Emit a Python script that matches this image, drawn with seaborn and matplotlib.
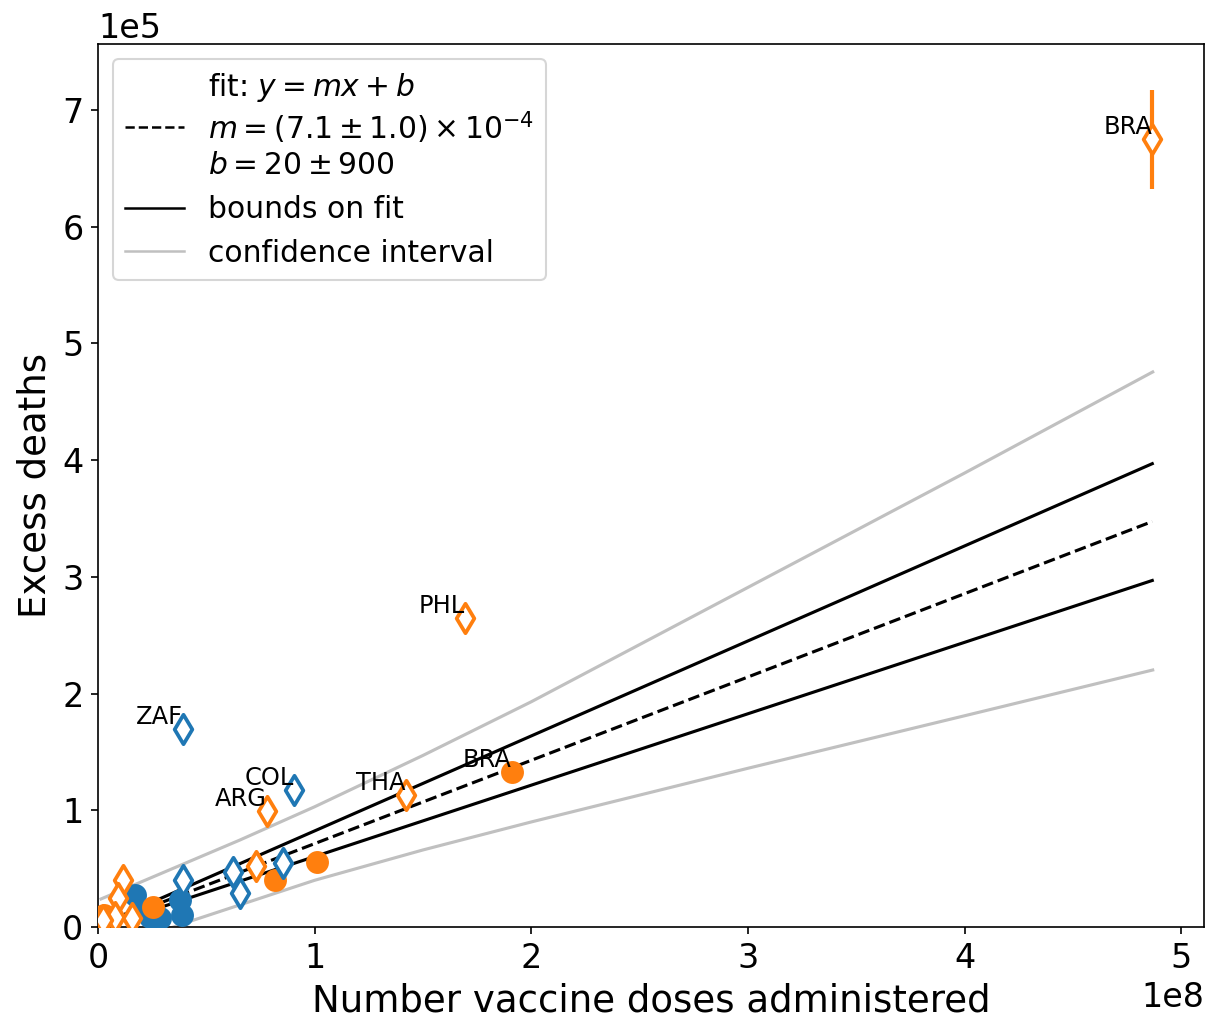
import numpy as np
import pandas as pd
import matplotlib
matplotlib.use("Agg")
import matplotlib.pyplot as plt
from matplotlib.lines import Line2D
import seaborn as sns

# Data (x in doses, y in excess deaths)
blue_circle_x = [0.171e8, 0.194e8, 0.240e8, 0.286e8, 0.378e8, 0.388e8]
blue_circle_y = [0.274e5, 0.146e5, 0.086e5, 0.077e5, 0.231e5, 0.103e5]

orange_circle_x = [0.028e8, 0.254e8, 0.817e8, 1.011e8, 1.910e8]
orange_circle_y = [0.103e5, 0.171e5, 0.403e5, 0.557e5, 1.328e5]
orange_circle_err = [0, 0, 0, 0, 0.07e5]
orange_circle_lab = ["", "", "", "", "BRA"]

blue_diamond_x = [0.392e8, 0.904e8, 0.392e8, 0.623e8, 0.655e8, 0.854e8]
blue_diamond_y = [1.697e5, 1.174e5, 0.403e5, 0.471e5, 0.291e5, 0.548e5]
blue_diamond_lab = ["ZAF", "COL", "", "", "", ""]

orange_diamond_x = [4.866e8, 1.694e8, 1.421e8, 0.780e8, 0.729e8,
                    0.115e8, 0.092e8, 0.078e8, 0.157e8, 0.023e8]
orange_diamond_y = [6.752e5, 2.648e5, 1.131e5, 0.994e5, 0.523e5,
                    0.403e5, 0.249e5, 0.086e5, 0.077e5, 0.060e5]
orange_diamond_err = [0.424e5, 0, 0, 0, 0, 0, 0, 0, 0, 0]
orange_diamond_lab = ["BRA", "PHL", "THA", "ARG", "", "", "", "", "", ""]

# Fit y = m x + b and its bounds
fit_m, fit_b = 7.14e-4, 20
hi_m, hi_b = 8.14e-4, 920
lo_m, lo_b = 6.12e-4, -880
fit_x = [0.014e8, 4.866e8]

# Confidence interval curves
ci_up_x = [0.014e8, 0.655e8, 1.0e8, 1.5e8, 2.0e8, 3.0e8, 4.0e8, 4.868e8]
ci_up_y = [0.240e5, 0.745e5, 1.03e5, 1.47e5, 1.93e5, 2.91e5, 3.89e5, 4.756e5]
ci_lo_x = [0.014e8, 0.401e8, 1.0e8, 1.5e8, 2.0e8, 3.0e8, 4.0e8, 4.868e8]
ci_lo_y = [-0.22e5, 0.034e5, 0.40e5, 0.66e5, 0.90e5, 1.36e5, 1.81e5, 2.202e5]

blue = "#1f77b4"
orange = "#ff7f0e"
gray = "#c0c0c0"

fig, ax = plt.subplots(figsize=(1214 / 150, 1027 / 150), dpi=150)
fig.subplots_adjust(left=0.0807, right=0.9918, top=0.957, bottom=0.0974)

# Fit lines
fx = np.array(fit_x)
lines = pd.DataFrame({
    "x": np.concatenate([fx, fx, fx]),
    "y": np.concatenate([fit_m * fx + fit_b, hi_m * fx + hi_b, lo_m * fx + lo_b]),
    "kind": ["fit"] * 2 + ["hi"] * 2 + ["lo"] * 2,
})
sns.lineplot(data=lines[lines.kind == "fit"], x="x", y="y", color="black",
             linestyle="--", lw=1.5, ax=ax, zorder=2)
for k in ["hi", "lo"]:
    sns.lineplot(data=lines[lines.kind == k], x="x", y="y", color="black",
                 lw=1.5, ax=ax, zorder=2)
sns.lineplot(x=ci_up_x, y=ci_up_y, color=gray, lw=1.5, ax=ax, zorder=1)
sns.lineplot(x=ci_lo_x, y=ci_lo_y, color=gray, lw=1.5, ax=ax, zorder=1)

# Error bars
ax.errorbar(orange_circle_x, orange_circle_y, yerr=orange_circle_err, fmt="none",
            ecolor=orange, elinewidth=2, zorder=3)
ax.errorbar(orange_diamond_x, orange_diamond_y, yerr=orange_diamond_err, fmt="none",
            ecolor=orange, elinewidth=2, zorder=3)

# Points
sns.scatterplot(x=blue_circle_x, y=blue_circle_y, color=blue, edgecolor=blue,
                s=100, marker="o", linewidth=1, ax=ax, zorder=4)
sns.scatterplot(x=orange_circle_x, y=orange_circle_y, color=orange, edgecolor=orange,
                s=100, marker="o", linewidth=1, ax=ax, zorder=4)
sns.scatterplot(x=blue_diamond_x, y=blue_diamond_y, facecolor="white", edgecolor=blue,
                s=100, marker="d", linewidth=1.8, ax=ax, zorder=4)
sns.scatterplot(x=orange_diamond_x, y=orange_diamond_y, facecolor="white", edgecolor=orange,
                s=100, marker="d", linewidth=1.8, ax=ax, zorder=4)

# Country labels
for xs, ys, labs in [(orange_circle_x, orange_circle_y, orange_circle_lab),
                     (blue_diamond_x, blue_diamond_y, blue_diamond_lab),
                     (orange_diamond_x, orange_diamond_y, orange_diamond_lab)]:
    for x, y, lab in zip(xs, ys, labs):
        if lab:
            ax.text(x, y, lab, ha="right", va="bottom", fontsize=11.6, zorder=5)

ax.set_xlim(0, 5.105e8)
ax.set_ylim(0, 7.565e5)
ax.ticklabel_format(style="sci", scilimits=(0, 0), axis="both")
ax.tick_params(labelsize=16)
ax.xaxis.get_offset_text().set_fontsize(16)
ax.yaxis.get_offset_text().set_fontsize(16)
ax.set_xlabel("Number vaccine doses administered", fontsize=17.8)
ax.set_ylabel("Excess deaths", fontsize=17.8)

handles = [
    Line2D([], [], color="black", linestyle="--", lw=1.2),
    Line2D([], [], color="black", lw=1.2),
    Line2D([], [], color=gray, lw=1.2),
]
labels = [
    "fit: $y = mx + b$\n$m = (7.1 \\pm 1.0) \\times 10^{-4}$\n$b = 20 \\pm 900$",
    "bounds on fit",
    "confidence interval",
]
ax.legend(handles, labels, loc="upper left", fontsize=14.3)

fig.savefig("out.png", dpi=150)
